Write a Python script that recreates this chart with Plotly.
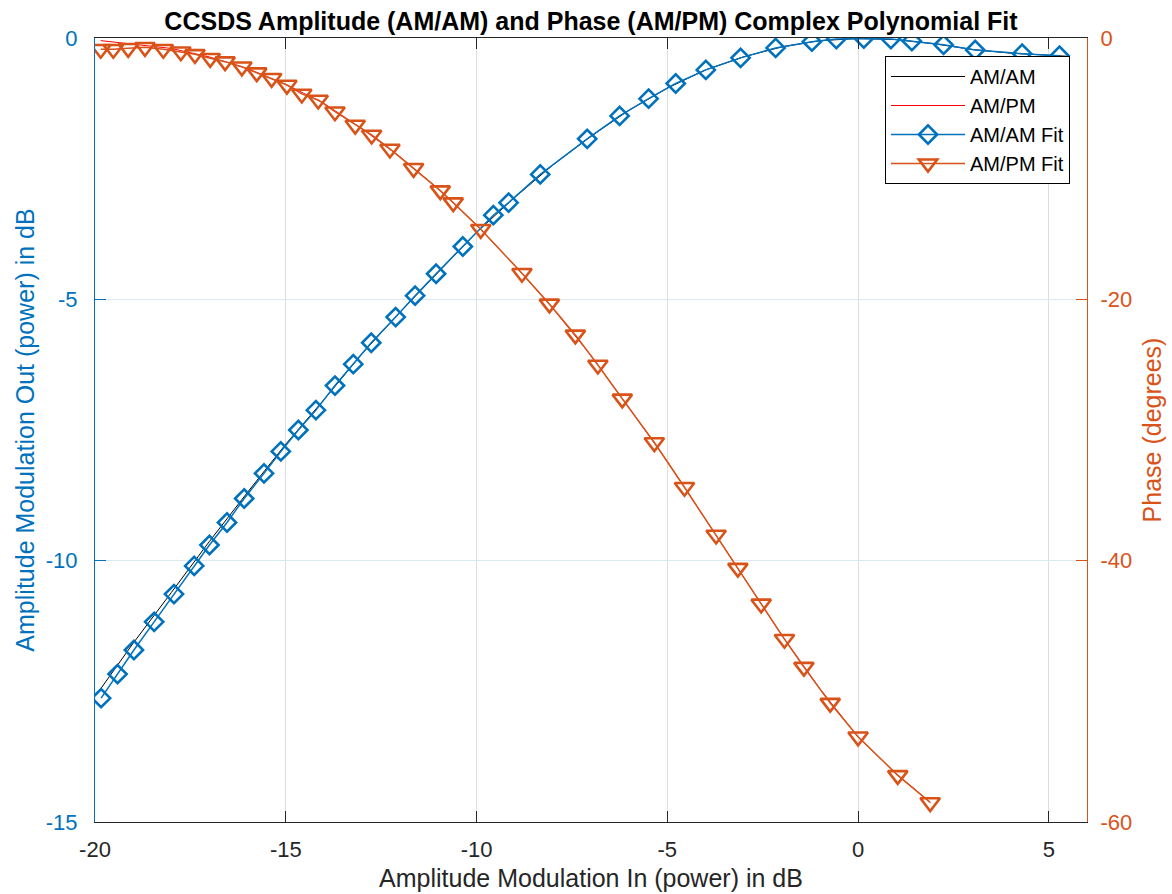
import plotly.graph_objects as go

# ---------------- data ----------------
amam_fit_in = [-19.84, -19.41, -18.98, -18.45, -17.93, -17.40, -17.00, -16.54, -16.09, -15.57,
               -15.13, -14.67, -14.21, -13.71, -13.23, -12.76, -12.12, -11.61, -11.06, -10.36,
               -9.56, -9.16, -8.33, -7.10, -6.25, -5.49, -4.78, -3.99, -3.08, -2.16,
               -1.21, -0.57, 0.15, 0.86, 1.41, 2.24, 3.07, 4.30, 5.28]
amam_fit_out = [-12.63, -12.17, -11.71, -11.17, -10.64, -10.10, -9.70, -9.27, -8.81, -8.33,
                -7.91, -7.50, -7.12, -6.65, -6.24, -5.83, -5.34, -4.93, -4.51, -3.99,
                -3.39, -3.15, -2.61, -1.93, -1.49, -1.16, -0.87, -0.61, -0.38, -0.19,
                -0.07, -0.02, -0.01, -0.02, -0.06, -0.13, -0.23, -0.30, -0.34]

ampm_fit_in = [-19.85, -19.52, -19.13, -18.69, -18.21, -17.75, -17.38, -16.98, -16.59, -16.15,
               -15.76, -15.37, -14.97, -14.58, -14.15, -13.71, -13.18, -12.75, -12.27, -11.65,
               -10.95, -10.61, -9.89, -8.81, -8.09, -7.41, -6.82, -6.18, -5.34, -4.55,
               -3.72, -3.15, -2.54, -1.93, -1.42, -0.73, 0.00, 1.04, 1.89]
ampm_fit_phase = [-0.86, -0.86, -0.79, -0.71, -0.86, -1.05, -1.25, -1.55, -1.81, -2.20,
                  -2.65, -3.08, -3.60, -4.28, -4.74, -5.64, -6.66, -7.42, -8.49, -9.97,
                  -11.68, -12.60, -14.64, -18.00, -20.35, -22.72, -25.02, -27.62, -30.96, -34.38,
                  -38.03, -40.57, -43.31, -46.01, -48.15, -50.90, -53.48, -56.43, -58.51]

amam_in = [-19.85, -19, -18, -17, -16, -15, -14, -13, -12, -11, -10, -9, -8, -7,
           -6, -5, -4, -3, -2, -1, 0, 1, 2, 3, 4, 5, 5.5]
amam_out = [-12.45, -11.58, -10.61, -9.63, -8.69, -7.77, -6.92, -6.04, -5.24, -4.47, -3.72,
            -3.05, -2.43, -1.88, -1.38, -0.96, -0.61, -0.36, -0.17, -0.05, -0.01, -0.03,
            -0.11, -0.22, -0.29, -0.33, -0.35]

ampm_in = [-19.85, -19, -18, -17, -16, -15, -14, -13, -12, -11, -10, -9, -8, -7,
           -6, -5, -4, -3, -2, -1, 0, 1, 1.9]
ampm_phase = [-0.2, -0.45, -0.8, -1.45, -2.35, -3.55, -5.0, -6.95, -9.1, -11.55, -14.3,
              -17.4, -20.7, -24.3, -28.3, -32.4, -36.8, -41.2, -45.7, -49.8, -53.5, -56.3, -58.5]

x_ticks = [-20, -15, -10, -5, 0, 5]
x_tick_labels = ["-20", "-15", "-10", "-5", "0", "5"]
y_left_ticks = [0, -5, -10, -15]
y_left_labels = ["0", "-5", "-10", "-15"]
y_right_ticks = [0, -20, -40, -60]
y_right_labels = ["0", "-20", "-40", "-60"]

# ---------------- style ----------------
BLUE = "#0072BD"
ORANGE = "#D95319"
DARK = "#262626"
FONT = "Liberation Sans, Arial, Helvetica, sans-serif"

fig = go.Figure()

fig.add_trace(go.Scatter(x=amam_in, y=amam_out, mode="lines", name="AM/AM",
                         line=dict(color="#000000", width=1), yaxis="y"))
fig.add_trace(go.Scatter(x=ampm_in, y=ampm_phase, mode="lines", name="AM/PM",
                         line=dict(color="#FF0000", width=1), yaxis="y2"))
fig.add_trace(go.Scatter(x=amam_fit_in, y=amam_fit_out, mode="lines+markers", name="AM/AM Fit",
                         line=dict(color=BLUE, width=1.5),
                         marker=dict(symbol="diamond-open", size=14, color=BLUE,
                                     line=dict(color=BLUE, width=2.6)),
                         yaxis="y"))
fig.add_trace(go.Scatter(x=ampm_fit_in, y=ampm_fit_phase, mode="lines+markers", name="AM/PM Fit",
                         line=dict(color=ORANGE, width=1.5),
                         marker=dict(symbol="triangle-down-open", size=17, color=ORANGE,
                                     line=dict(color=ORANGE, width=2.6)),
                         yaxis="y2"))

fig.update_layout(
    width=1172, height=894,
    margin=dict(l=95, r=85, t=38, b=72),
    paper_bgcolor="white", plot_bgcolor="white",
    font=dict(family=FONT, size=22, color=DARK),
    title=dict(text="<b>CCSDS Amplitude (AM/AM) and Phase (AM/PM) Complex Polynomial Fit</b>",
               x=0.5, xref="paper", xanchor="center",
               y=1 - 21.5 / 894, yref="container", yanchor="middle",
               font=dict(family=FONT, size=25, color="#000000")),
    xaxis=dict(range=[-20, 6], tickvals=x_ticks, ticktext=x_tick_labels,
               ticks="inside", ticklen=11, tickwidth=1, automargin=False,
               tickcolor=DARK, showline=True, linecolor=DARK, linewidth=1, mirror="ticks",
               showgrid=True, gridcolor="#DEDEDE", gridwidth=1, zeroline=False,
               tickfont=dict(size=22, color=DARK), ticklabelstandoff=8,
               title=dict(text="Amplitude Modulation In (power) in dB",
                          font=dict(size=25, color=DARK), standoff=8)),
    yaxis=dict(range=[-15, 0], tickvals=y_left_ticks, ticktext=y_left_labels,
               ticks="inside", ticklen=11, tickwidth=1, automargin=False,
               tickcolor=BLUE, showline=True, linecolor=BLUE, linewidth=1, mirror=False,
               showgrid=True, gridcolor="#D9EAF5", gridwidth=1, zeroline=False,
               tickfont=dict(size=22, color=BLUE), ticklabelstandoff=12,
               title=dict(text="Amplitude Modulation Out (power) in dB",
                          font=dict(size=25, color=BLUE), standoff=4)),
    yaxis2=dict(range=[-60, 0], tickvals=y_right_ticks, ticktext=y_right_labels,
                ticks="inside", ticklen=11, tickwidth=1, automargin=False,
                tickcolor=ORANGE, showline=True, linecolor=ORANGE, linewidth=1,
                overlaying="y", side="right", showgrid=False, zeroline=False,
                tickfont=dict(size=22, color=ORANGE), ticklabelstandoff=8,
                title=dict(text="Phase (degrees)", font=dict(size=25, color=ORANGE), standoff=12)),
    legend=dict(x=(1070 - 95) / 992, xanchor="right", y=(822 - 56) / 784, yanchor="top",
                bgcolor="white", bordercolor="#000000", borderwidth=1,
                font=dict(size=20, color="#000000"), itemwidth=74, tracegroupgap=0),
    showlegend=True,
)

fig.write_html("out.html")
